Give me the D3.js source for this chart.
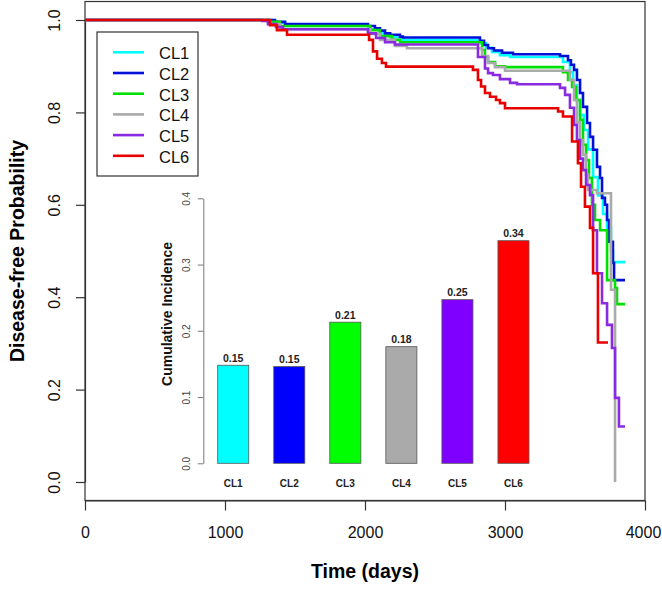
<!DOCTYPE html>
<html>
<head>
<meta charset="utf-8">
<script src="https://cdnjs.cloudflare.com/ajax/libs/d3/7.8.5/d3.min.js"></script>
<style>
    body { margin: 0; background: #fff; }
    svg { font-family: "Liberation Sans", Arial, sans-serif; }
</style>
</head>
<body>
<svg id="chart" width="662" height="591"></svg>
<script>
// Groups and colours
const groups = ["CL1", "CL2", "CL3", "CL4", "CL5", "CL6"];
const curveColors = ["#00ffff", "#0010d8", "#00e000", "#aaaaaa", "#8a2be2", "#e80000"];
const barColors = ["#00ffff", "#0000ff", "#00ff00", "#aaaaaa", "#8000ff", "#ff0000"];

// Kaplan-Meier step points: [time (days), disease-free probability]
const cl1 = [[0, 1], [1336, 0.994], [1429, 0.987], [2036, 0.980], [2107, 0.971], [2179, 0.963], [2250, 0.957],
    [2821, 0.950], [2864, 0.940], [2907, 0.931], [2964, 0.924], [3036, 0.920], [3414, 0.909], [3464, 0.887],
    [3486, 0.859], [3514, 0.827], [3536, 0.794], [3564, 0.762], [3593, 0.720], [3629, 0.660], [3664, 0.620],
    [3700, 0.580], [3729, 0.550], [3757, 0.500], [3771, 0.476]];
const cl2 = [[0, 1], [1357, 0.996], [1429, 0.991], [2021, 0.987], [2071, 0.982], [2107, 0.977], [2143, 0.971],
    [2179, 0.968], [2250, 0.964], [2271, 0.962], [2821, 0.955], [2850, 0.946], [2879, 0.939], [2921, 0.934],
    [2979, 0.929], [3057, 0.926], [3393, 0.922], [3450, 0.913], [3471, 0.903], [3493, 0.892], [3514, 0.870],
    [3536, 0.842], [3557, 0.812], [3586, 0.777], [3607, 0.747], [3629, 0.719], [3657, 0.682], [3679, 0.658],
    [3693, 0.615], [3714, 0.600], [3729, 0.567], [3743, 0.520], [3771, 0.474], [3779, 0.437]];
const cl3 = [[0, 1], [1307, 0.996], [1393, 0.987], [2036, 0.978], [2107, 0.965], [2193, 0.957], [2250, 0.952],
    [2836, 0.935], [2857, 0.920], [2879, 0.909], [2929, 0.900], [3000, 0.898], [3414, 0.887], [3450, 0.870],
    [3479, 0.855], [3507, 0.827], [3536, 0.784], [3557, 0.730], [3579, 0.697], [3600, 0.658], [3621, 0.600],
    [3643, 0.567], [3679, 0.545], [3729, 0.437], [3786, 0.420], [3800, 0.385]];
const cl4 = [[0, 1], [1321, 0.991], [1393, 0.980], [2036, 0.970], [2107, 0.957], [2214, 0.944], [2300, 0.939],
    [2836, 0.922], [2879, 0.907], [2929, 0.898], [3000, 0.890], [3464, 0.870], [3493, 0.827], [3514, 0.779],
    [3536, 0.740], [3557, 0.708], [3579, 0.665], [3593, 0.632], [3657, 0.625], [3757, 0.416], [3786, 0]];
const cl5 = [[0, 1], [1264, 0.998], [1307, 0.991], [1364, 0.985], [1414, 0.980], [2021, 0.971], [2079, 0.961],
    [2143, 0.952], [2214, 0.947], [2807, 0.920], [2857, 0.895], [2879, 0.885], [2914, 0.881], [2964, 0.872],
    [3036, 0.864], [3086, 0.861], [3393, 0.853], [3429, 0.838], [3464, 0.810], [3493, 0.773], [3514, 0.740],
    [3536, 0.700], [3557, 0.675], [3579, 0.643], [3607, 0.621], [3629, 0.545], [3657, 0.452], [3693, 0.387],
    [3729, 0.340], [3764, 0.290], [3786, 0.182], [3814, 0.120]];
const cl6 = [[0, 1], [1321, 0.989], [1371, 0.978], [1443, 0.968], [2029, 0.957], [2057, 0.932], [2086, 0.916],
    [2121, 0.907], [2150, 0.899], [2771, 0.892], [2807, 0.870], [2829, 0.856], [2857, 0.842], [2893, 0.834],
    [2936, 0.827], [2964, 0.820], [3000, 0.809], [3379, 0.802], [3414, 0.791], [3479, 0.737], [3521, 0.690],
    [3543, 0.639], [3571, 0.596], [3607, 0.550], [3629, 0.452], [3664, 0.302]];
const curves = [cl1, cl2, cl3, cl4, cl5, cl6];
const lastTimes = [3857, 3857, 3857, 3786, 3857, 3736];

// Inset bar chart values
const incidence = [0.148, 0.146, 0.213, 0.176, 0.247, 0.336];

// Tick values
const xTicks = [0, 1000, 2000, 3000, 4000];
const yTicks = [0, 0.2, 0.4, 0.6, 0.8, 1.0];
const barTicks = [0, 0.1, 0.2, 0.3, 0.4];

const svg = d3.select("#chart");

// Main scales (R style: y padded by 4%, x exact)
const x = d3.scaleLinear().domain([0, 4000]).range([85, 645]);
const y = d3.scaleLinear().domain([0, 1]).range([482, 20]);

// Box round the plot region
svg.append("rect")
    .attr("x", x(0)).attr("y", y(1.04))
    .attr("width", x(4000) - x(0)).attr("height", y(-0.04) - y(1.04))
    .attr("fill", "none").attr("stroke", "#333").attr("stroke-width", 1.2);

// Axes
let xAxisG = svg.append("g")
    .attr("transform", `translate(0,${y(-0.04)})`)
    .call(d3.axisBottom(x).tickValues(xTicks).tickSize(10).tickPadding(16).tickSizeOuter(0)
        .tickFormat(d3.format("d")));
let yAxisG = svg.append("g")
    .attr("transform", `translate(${x(0)},0)`)
    .call(d3.axisLeft(y).tickValues(yTicks).tickSize(9).tickSizeOuter(0).tickFormat(d3.format(".1f")));

[xAxisG, yAxisG].forEach(g => {
    g.selectAll("path, line").attr("stroke", "#333").attr("stroke-width", 1.2);
    g.selectAll("text").attr("font-size", 16).attr("fill", "#111")
        .attr("font-family", "Liberation Sans, Arial, sans-serif");
});
// last x label sits against the right edge, as in the original
xAxisG.selectAll("text").filter(d => d === 4000).attr("dx", -2);
// y tick labels are parallel to the axis
yAxisG.selectAll("text")
    .attr("x", null).attr("dy", null)
    .attr("text-anchor", "middle")
    .attr("transform", "translate(-25,0) rotate(-90)");

// Axis titles
svg.append("text")
    .attr("x", (x(0) + x(4000)) / 2).attr("y", 578)
    .attr("text-anchor", "middle").attr("font-size", 19.5).attr("font-weight", "bold")
    .text("Time (days)");
svg.append("text")
    .attr("transform", `translate(24,${(y(1.04) + y(-0.04)) / 2}) rotate(-90)`)
    .attr("text-anchor", "middle").attr("font-size", 19.5).attr("font-weight", "bold")
    .text("Disease-free Probability");

// Survival curves
const line = d3.line()
    .x(d => x(d[0]))
    .y(d => y(d[1]))
    .curve(d3.curveStepAfter);

curves.forEach((c, i) => {
    let pts = c.concat([[lastTimes[i], c[c.length - 1][1]]]);
    svg.append("path")
        .datum(pts)
        .attr("d", line)
        .attr("fill", "none")
        .attr("stroke", curveColors[i])
        .attr("stroke-width", 2.6);
});

// Legend
const legend = svg.append("g");
legend.append("rect")
    .attr("x", 97).attr("y", 32).attr("width", 101).attr("height", 144)
    .attr("fill", "#fff").attr("stroke", "#333").attr("stroke-width", 1.2);
groups.forEach((gname, i) => {
    let ly = 52.3 + i * 20.7;
    legend.append("line")
        .attr("x1", 113).attr("x2", 144).attr("y1", ly).attr("y2", ly)
        .attr("stroke", curveColors[i]).attr("stroke-width", 2.6);
    legend.append("text")
        .attr("x", 159).attr("y", ly + 7)
        .attr("font-size", 16.5).attr("fill", "#111")
        .text(gname);
});

// Inset bar chart of cumulative incidence
const xb = d3.scaleBand().domain(groups).range([217.7, 529]).paddingInner(0.446);
const yb = d3.scaleLinear().domain([0, 0.4]).range([463.3, 198.3]);

const inset = svg.append("g");
inset.selectAll("rect.bar")
    .data(incidence)
    .enter().append("rect")
    .attr("class", "bar")
    .attr("x", (d, i) => xb(groups[i]))
    .attr("y", d => yb(d))
    .attr("width", xb.bandwidth())
    .attr("height", d => yb(0) - yb(d))
    .attr("fill", (d, i) => barColors[i])
    .attr("stroke", "#555").attr("stroke-width", 0.8);

inset.selectAll("text.val")
    .data(incidence)
    .enter().append("text")
    .attr("class", "val")
    .attr("x", (d, i) => xb(groups[i]) + xb.bandwidth() / 2)
    .attr("y", d => yb(d) - 3.5)
    .attr("text-anchor", "middle").attr("font-size", 10.5).attr("font-weight", "bold").attr("fill", "#222")
    .text(d => d3.format(".2f")(d));

let ybAxisG = inset.append("g")
    .attr("transform", "translate(203.3,0)")
    .call(d3.axisLeft(yb).tickValues(barTicks).tickSize(5.5).tickSizeOuter(0).tickFormat(d3.format(".1f")));
ybAxisG.selectAll("path, line").attr("stroke", "#777").attr("stroke-width", 1);
ybAxisG.selectAll("text")
    .attr("x", null).attr("dy", null)
    .attr("text-anchor", "middle")
    .attr("transform", "translate(-13.3,0) rotate(-90)")
    .attr("font-size", 10).attr("fill", "#444")
    .attr("font-family", "Liberation Sans, Arial, sans-serif");

let xbAxisG = inset.append("g")
    .attr("transform", `translate(0,${yb(0)})`)
    .call(d3.axisBottom(xb).tickSize(0).tickPadding(16.6));
xbAxisG.select(".domain").remove();
xbAxisG.selectAll("text")
    .attr("font-size", 10).attr("font-weight", "bold").attr("fill", "#222")
    .attr("font-family", "Liberation Sans, Arial, sans-serif");

inset.append("text")
    .attr("transform", "translate(171.5,314) rotate(-90)")
    .attr("text-anchor", "middle").attr("font-size", 14).attr("font-weight", "bold").attr("fill", "#111")
    .text("Cumulative Incidence");
</script>
</body>
</html>
